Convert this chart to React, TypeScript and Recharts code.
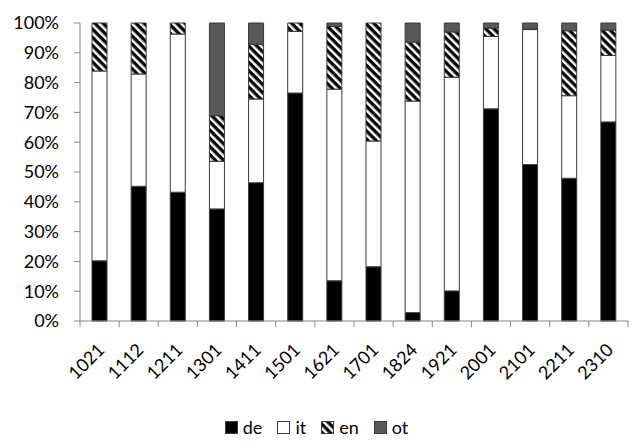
import React from 'react';
import { Bar, BarChart, Legend, XAxis, YAxis } from 'recharts';

const categories = ['1021', '1112', '1211', '1301', '1411', '1501', '1621', '1701', '1824', '1921', '2001', '2101', '2211', '2310'];
const deValues = [20.2, 45.2, 43.2, 37.6, 46.4, 76.5, 13.5, 18.2, 2.8, 10.1, 71.2, 52.5, 47.9, 66.8];
const itValues = [63.7, 37.7, 53.1, 16.0, 28.1, 20.7, 64.3, 42.2, 71.0, 71.7, 24.3, 45.3, 27.7, 22.3];
const enValues = [16.1, 17.1, 3.7, 15.3, 18.4, 2.8, 21.1, 39.6, 19.8, 15.2, 2.8, 0.2, 21.8, 8.5];
const otValues = [0, 0, 0, 31.1, 7.1, 0, 1.1, 0, 6.4, 3.0, 1.7, 2.0, 2.6, 2.4];
const yTicks = [0, 10, 20, 30, 40, 50, 60, 70, 80, 90, 100];

const data = categories.map((name, i) => ({
  name,
  de: deValues[i],
  it: itValues[i],
  en: enValues[i],
  ot: otValues[i],
}));

const FONT = 'Lato, "Liberation Sans", sans-serif';
const AXIS = '#868686';
const EDGE = '#3a3a3a';
const W = 637;
const H = 445;
const LEFT = 80;
const RIGHT = 9;
const BAND = (W - LEFT - RIGHT) / categories.length;

const legendItems = [
  { key: 'de', fill: '#000000' },
  { key: 'it', fill: '#ffffff' },
  { key: 'en', fill: 'url(#hatchLegend)' },
  { key: 'ot', fill: '#595959' },
];

function Hatch({ id }: { id: string }) {
  return (
    <pattern id={id} width={5.8} height={5.8} patternUnits="userSpaceOnUse" patternTransform="rotate(45)">
      <rect width={5.8} height={5.8} fill="#fff" />
      <rect width={5.8} height={3.3} fill="#000" />
    </pattern>
  );
}

function XTick(props: any) {
  const { x, y, payload, index } = props;
  return (
    <g>
      {index === 0 && <line x1={x - BAND / 2} x2={x - BAND / 2} y1={y} y2={y + 6} stroke={AXIS} />}
      <line x1={x + BAND / 2} x2={x + BAND / 2} y1={y} y2={y + 6} stroke={AXIS} />
      <text
        x={x + 6}
        y={y + 30}
        transform={`rotate(-45, ${x + 6}, ${y + 30})`}
        textAnchor="end"
        fontSize={18}
        fontFamily={FONT}
        fill="#000"
      >
        {payload.value}
      </text>
    </g>
  );
}

function LegendContent() {
  return (
    <div
      style={{
        height: 40,
        paddingTop: 4,
        boxSizing: 'border-box',
        display: 'flex',
        alignItems: 'center',
        justifyContent: 'center',
        paddingLeft: 20,
        fontFamily: FONT,
        fontSize: 18,
        color: '#000',
      }}
    >
      {legendItems.map((item) => (
        <div key={item.key} style={{ display: 'flex', alignItems: 'center', marginRight: 15 }}>
          <svg width={13} height={13} style={{ marginRight: 5 }}>
            <defs>
              <Hatch id="hatchLegend" />
            </defs>
            <rect x={0.5} y={0.5} width={12} height={12} fill={item.fill} stroke={EDGE} />
          </svg>
          <span>{item.key}</span>
        </div>
      ))}
    </div>
  );
}

export default function App() {
  return (
    <div style={{ position: 'absolute', left: 0, top: 0, width: W, height: H, background: '#fff' }}>
      <BarChart width={W} height={H} data={data} margin={{ top: 23, right: RIGHT, left: 0, bottom: 0 }}>
        <defs>
          <Hatch id="hatch" />
        </defs>
        <XAxis
          dataKey="name"
          height={84}
          axisLine={{ stroke: AXIS }}
          tickLine={false}
          tickSize={0}
          tickMargin={0}
          interval={0}
          tick={<XTick />}
        />
        <YAxis
          width={LEFT}
          domain={[0, 100]}
          ticks={yTicks}
          tickFormatter={(v) => `${v}%`}
          axisLine={{ stroke: AXIS }}
          tickLine={{ stroke: AXIS }}
          tickSize={6}
          tickMargin={15}
          tick={{ fontSize: 18, fontFamily: FONT, fill: '#000' }}
        />
        <Legend verticalAlign="bottom" height={40} content={<LegendContent />} />
        <Bar dataKey="de" stackId="s" barSize={15} fill="#000000" stroke={EDGE} isAnimationActive={false} />
        <Bar dataKey="it" stackId="s" barSize={15} fill="#ffffff" stroke={EDGE} isAnimationActive={false} />
        <Bar dataKey="en" stackId="s" barSize={15} fill="url(#hatch)" stroke={EDGE} isAnimationActive={false} />
        <Bar dataKey="ot" stackId="s" barSize={15} fill="#595959" stroke={EDGE} isAnimationActive={false} />
      </BarChart>
    </div>
  );
}
